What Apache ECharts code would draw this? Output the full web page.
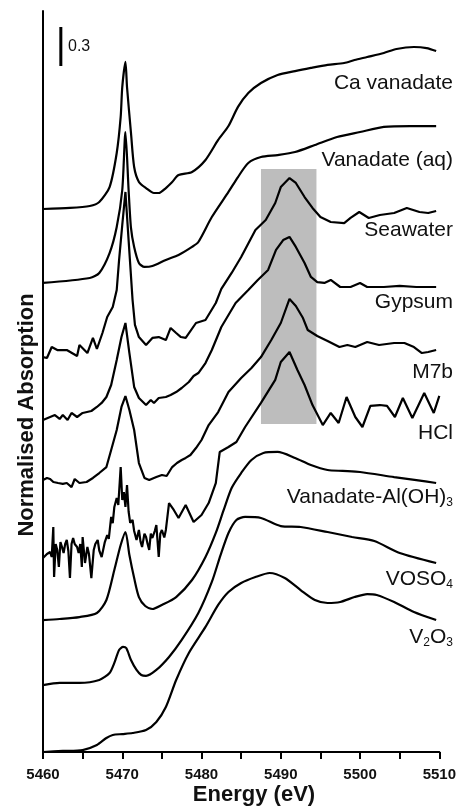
<!DOCTYPE html>
<html>
<head>
<meta charset="utf-8">
<title>V K-edge XANES</title>
<script src="https://cdn.jsdelivr.net/npm/echarts@6/dist/echarts.min.js"></script>
<style>
  html, body { margin: 0; padding: 0; background: #fff; }
  #chart { width: 459px; height: 807px; }
</style>
</head>
<body>
<div id="chart"></div>
<script>
/*** data (energy eV, stacked normalised absorption) ***/
var xLabels = [5460, 5470, 5480, 5490, 5500, 5510];

var caVanadate = [
  [5460.0,4.177],[5463.4,4.185],[5465.9,4.200],[5467.1,4.231],[5468.4,4.346],[5469.3,4.608],
  [5469.8,4.885],[5470.0,5.115],[5470.4,5.308],[5470.6,5.115],[5471.1,4.762],[5471.5,4.500],
  [5472.1,4.385],[5473.0,4.338],[5474.0,4.300],[5474.6,4.300],[5475.5,4.338],[5476.3,4.385],
  [5477.1,4.438],[5478.8,4.462],[5480.5,4.554],[5482.1,4.708],[5483.4,4.815],[5484.6,4.962],
  [5485.9,5.069],[5487.5,5.146],[5489.6,5.208],[5491.8,5.238],[5493.8,5.262],[5495.9,5.285],
  [5498.0,5.300],[5499.3,5.323],[5500.9,5.346],[5503.0,5.377],[5504.6,5.408],[5506.8,5.423],
  [5508.4,5.415],[5509.6,5.392]
];
var vanadateAq = [
  [5460.0,3.608],[5465.9,3.646],[5467.1,3.685],[5468.4,3.838],[5469.3,4.038],[5470.0,4.323],
  [5470.4,4.769],[5470.8,4.323],[5471.1,4.031],[5471.5,3.885],[5472.1,3.762],[5472.8,3.731],
  [5473.8,3.738],[5475.5,3.785],[5477.1,3.823],[5478.8,3.885],[5479.6,3.923],[5481.3,4.115],
  [5483.4,4.308],[5484.6,4.423],[5485.9,4.531],[5487.5,4.577],[5489.6,4.592],[5491.8,4.615],
  [5494.3,4.669],[5497.1,4.731],[5500.0,4.769],[5503.0,4.808],[5506.3,4.815],[5509.6,4.815]
];
var seawater = [
  [5460.0,3.038],[5460.5,3.031],[5461.1,3.115],[5461.8,3.092],[5463.0,3.092],[5464.3,3.046],
  [5464.6,3.131],[5465.6,3.069],[5466.3,3.185],[5466.8,3.100],[5467.5,3.223],[5468.1,3.346],
  [5468.8,3.423],[5469.3,3.554],[5469.6,3.785],[5470.0,4.054],[5470.4,4.308],[5470.8,3.938],
  [5471.3,3.477],[5471.6,3.285],[5472.1,3.192],[5473.0,3.131],[5473.8,3.185],[5474.6,3.192],
  [5475.5,3.169],[5476.1,3.262],[5476.8,3.223],[5477.4,3.192],[5478.0,3.185],[5479.3,3.300],
  [5480.5,3.323],[5481.8,3.454],[5482.5,3.562],[5483.8,3.685],[5485.0,3.808],[5486.8,4.015],
  [5488.1,4.092],[5489.3,4.223],[5490.0,4.346],[5491.1,4.415],[5491.9,4.377],[5493.0,4.269],
  [5494.0,4.185],[5495.0,4.115],[5496.3,4.077],[5498.0,4.069],[5498.8,4.108],[5499.9,4.154],
  [5501.1,4.108],[5502.5,4.131],[5504.3,4.146],[5505.9,4.185],[5507.5,4.154],[5508.6,4.146],
  [5509.6,4.162]
];
var gypsum = [
  [5460.0,2.554],[5460.9,2.577],[5461.5,2.592],[5462.1,2.562],[5462.5,2.592],[5463.1,2.554],
  [5463.6,2.608],[5464.3,2.577],[5465.0,2.608],[5466.1,2.623],[5466.8,2.654],[5467.4,2.685],
  [5468.0,2.731],[5468.6,2.823],[5469.3,3.015],[5469.9,3.192],[5470.4,3.300],[5470.9,3.069],
  [5471.5,2.808],[5472.1,2.723],[5473.0,2.669],[5473.6,2.708],[5474.0,2.685],[5474.6,2.723],
  [5475.5,2.731],[5476.1,2.746],[5476.8,2.769],[5477.5,2.800],[5478.4,2.846],[5479.0,2.892],
  [5479.6,2.915],[5480.5,2.992],[5481.3,3.092],[5482.5,3.269],[5484.3,3.454],[5485.9,3.554],
  [5487.1,3.631],[5488.4,3.708],[5489.4,3.862],[5490.3,3.938],[5491.1,3.962],[5491.9,3.885],
  [5493.0,3.762],[5493.8,3.654],[5494.6,3.615],[5495.5,3.608],[5496.3,3.631],[5497.5,3.577],
  [5498.8,3.577],[5500.0,3.608],[5500.9,3.577],[5503.0,3.577],[5505.0,3.585],[5507.1,3.577],
  [5509.6,3.577]
];
var m7b = [
  [5460.0,2.092],[5460.5,2.108],[5460.9,2.100],[5461.3,2.077],[5461.9,2.069],[5462.5,2.062],
  [5463.0,2.069],[5463.6,2.038],[5464.0,2.100],[5464.6,2.069],[5465.5,2.077],[5466.3,2.108],
  [5467.1,2.146],[5468.0,2.192],[5468.6,2.323],[5469.3,2.477],[5469.9,2.654],[5470.4,2.738],
  [5470.9,2.631],[5471.5,2.477],[5472.1,2.223],[5472.8,2.108],[5473.4,2.092],[5474.3,2.115],
  [5475.0,2.131],[5475.6,2.123],[5476.3,2.192],[5476.9,2.223],[5477.5,2.246],[5478.0,2.262],
  [5478.6,2.285],[5479.3,2.338],[5480.0,2.400],[5480.9,2.515],[5482.1,2.615],[5483.4,2.769],
  [5485.0,2.877],[5486.3,2.954],[5487.5,3.038],[5488.8,3.169],[5490.0,3.300],[5491.1,3.485],
  [5491.9,3.431],[5492.8,3.338],[5493.4,3.246],[5494.6,3.200],[5495.9,3.162],[5497.4,3.115],
  [5498.4,3.131],[5499.4,3.115],[5500.9,3.154],[5502.4,3.131],[5504.3,3.146],[5505.6,3.146],
  [5506.8,3.115],[5507.8,3.069],[5508.6,3.077],[5509.6,3.092]
];
var hcl = [
  [5460.0,1.492],[5460.5,1.523],[5460.9,1.538],[5461.1,1.500],[5461.3,1.731],[5461.4,1.346],
  [5461.6,1.600],[5461.8,1.554],[5462.0,1.423],[5462.2,1.615],[5462.4,1.577],[5462.6,1.531],
  [5462.8,1.600],[5463.0,1.631],[5463.2,1.546],[5463.4,1.338],[5463.6,1.600],[5463.8,1.646],
  [5464.0,1.600],[5464.3,1.577],[5464.5,1.531],[5464.7,1.600],[5464.9,1.423],[5465.0,1.654],
  [5465.3,1.454],[5465.6,1.577],[5465.8,1.523],[5466.1,1.338],[5466.4,1.554],[5466.6,1.600],
  [5466.9,1.631],[5467.1,1.550],[5467.4,1.500],[5467.8,1.615],[5468.1,1.669],[5468.3,1.640],
  [5468.6,1.808],[5468.8,1.760],[5469.0,1.885],[5469.3,1.954],[5469.5,1.900],[5469.8,2.192],
  [5470.0,1.938],[5470.2,2.000],[5470.4,1.885],[5470.6,2.054],[5470.8,1.850],[5471.0,1.762],
  [5471.3,1.785],[5471.5,1.700],[5471.8,1.631],[5472.1,1.708],[5472.3,1.620],[5472.5,1.577],
  [5472.8,1.680],[5473.0,1.654],[5473.2,1.600],[5473.4,1.554],[5473.6,1.680],[5473.8,1.646],
  [5474.1,1.700],[5474.3,1.746],[5474.6,1.500],[5474.8,1.680],[5475.0,1.708],[5475.3,1.650],
  [5475.5,1.708],[5475.9,1.915],[5476.5,1.862],[5477.1,1.800],[5478.0,1.900],[5479.0,1.769],
  [5480.0,1.823],[5480.9,1.915],[5481.8,2.069],[5482.3,2.308],[5483.4,2.346],[5484.4,2.385],
  [5485.5,2.500],[5487.5,2.685],[5489.3,2.862],[5490.0,3.000],[5491.1,3.077],[5492.1,2.938],
  [5493.0,2.823],[5494.0,2.669],[5495.3,2.515],[5496.3,2.608],[5497.3,2.531],[5498.3,2.731],
  [5499.4,2.577],[5500.3,2.500],[5501.3,2.662],[5502.5,2.669],[5503.4,2.662],[5504.4,2.577],
  [5505.4,2.723],[5506.6,2.569],[5508.1,2.762],[5509.3,2.608],[5510.0,2.740]
];
var vanadateAlOH3 = [
  [5460.0,1.015],[5462.1,1.023],[5464.6,1.038],[5466.8,1.069],[5468.0,1.169],[5469.0,1.400],
  [5469.8,1.592],[5470.4,1.692],[5470.9,1.515],[5471.5,1.338],[5472.1,1.192],[5472.9,1.123],
  [5473.8,1.100],[5475.0,1.131],[5476.8,1.192],[5478.8,1.323],[5480.5,1.500],[5481.8,1.685],
  [5482.8,1.862],[5483.8,2.031],[5485.0,2.146],[5486.3,2.246],[5487.8,2.300],[5489.6,2.308],
  [5491.8,2.262],[5493.8,2.208],[5495.9,2.169],[5497.8,2.162],[5500.0,2.154],[5504.3,2.115],
  [5507.1,2.092],[5509.6,2.069]
];
var voso4 = [
  [5460.0,0.515],[5462.1,0.531],[5464.6,0.531],[5467.1,0.554],[5468.4,0.608],[5469.0,0.685],
  [5469.6,0.785],[5470.1,0.808],[5470.5,0.800],[5471.1,0.708],[5471.8,0.631],[5472.4,0.592],
  [5473.0,0.585],[5474.3,0.631],[5475.9,0.731],[5477.5,0.862],[5479.6,1.069],[5481.3,1.308],
  [5482.4,1.515],[5483.4,1.685],[5484.4,1.785],[5485.5,1.808],[5487.5,1.800],[5490.0,1.738],
  [5492.5,1.731],[5495.9,1.692],[5499.0,1.654],[5501.8,1.623],[5505.0,1.531],[5509.6,1.454]
];
var v2o3 = [
  [5460.0,0.000],[5462.5,0.008],[5465.0,0.015],[5466.8,0.054],[5468.0,0.108],[5468.8,0.131],
  [5470.0,0.138],[5471.3,0.146],[5473.0,0.169],[5474.3,0.231],[5475.5,0.346],[5476.8,0.554],
  [5478.4,0.762],[5480.5,0.962],[5482.1,1.131],[5483.4,1.231],[5485.0,1.300],[5486.8,1.346],
  [5488.6,1.377],[5490.5,1.338],[5492.5,1.246],[5494.3,1.169],[5495.9,1.146],[5497.5,1.154],
  [5499.3,1.192],[5500.9,1.215],[5502.1,1.208],[5504.3,1.154],[5506.8,1.077],[5509.6,1.015]
];

// scale bar (0.3 absorption units) and shaded energy window
var scaleBar = [[5462.25, 5.277], [5462.25, 5.577]];
var shadeX = [5487.5, 5494.5];
var shadeY = [2.523, 4.485];

var FONT = 'Liberation Sans, Arial, Helvetica, sans-serif';
var chart = echarts.init(document.getElementById('chart'));

function spectrum(data, smooth) {
  return {
    type: 'line',
    data: data,
    showSymbol: false,
    smooth: smooth ? 0.25 : false,
    z: 3,
    lineStyle: { color: '#000', width: 2.2 },
    silent: true
  };
}

function label(text, y) {
  return {
    type: 'text',
    x: 453,
    y: y,
    z: 10,
    style: {
      text: text,
      textAlign: 'right',
      textVerticalAlign: 'middle',
      fill: '#111',
      font: '21px ' + FONT,
      rich: {
        m: { fontSize: 21, fontFamily: FONT, fill: '#111', lineHeight: 24, verticalAlign: 'middle' },
        s: { fontSize: 12, fontFamily: FONT, fill: '#111', lineHeight: 12, verticalAlign: 'bottom' }
      }
    }
  };
}

var option = {
  animation: false,
  backgroundColor: '#fff',
  grid: { left: 43, right: 16, top: 11, bottom: 55 },
  xAxis: {
    type: 'value',
    min: 5460,
    max: 5510,
    interval: 5,
    axisLine: { lineStyle: { color: '#000', width: 2 } },
    axisTick: { show: true, inside: false, length: 7, lineStyle: { color: '#000', width: 2 } },
    axisLabel: {
      margin: 15,
      fontFamily: FONT,
      fontSize: 15,
      fontWeight: 'bold',
      color: '#111',
      formatter: function (v) { return xLabels.indexOf(v) >= 0 ? String(v) : ''; }
    },
    splitLine: { show: false }
  },
  yAxis: {
    type: 'value',
    min: 0,
    max: 5.7,
    axisLine: { show: true, lineStyle: { color: '#000', width: 2 } },
    axisTick: { show: false },
    axisLabel: { show: false },
    splitLine: { show: false }
  },
  graphic: [
    label('Ca vanadate', 83),
    label('Vanadate (aq)', 160),
    label('Seawater', 230),
    label('Gypsum', 302),
    label('M7b', 372),
    label('HCl', 433),
    label('{m|Vanadate-Al(OH)}{s|3}', 497),
    label('{m|VOSO}{s|4}', 579),
    label('{m|V}{s|2}{m|O}{s|3}', 637),
    {
      type: 'text', x: 68, y: 47, z: 10,
      style: { text: '0.3', fill: '#111', font: '16px ' + FONT, textAlign: 'left', textVerticalAlign: 'middle' }
    },
    {
      type: 'text', x: 254, y: 795, z: 10,
      style: { text: 'Energy (eV)', fill: '#111', font: 'bold 22px ' + FONT, textAlign: 'center', textVerticalAlign: 'middle' }
    },
    {
      type: 'text', x: 27, y: 415, rotation: Math.PI / 2, z: 10,
      style: { text: 'Normalised Absorption', fill: '#111', font: 'bold 22px ' + FONT, textAlign: 'center', textVerticalAlign: 'middle' }
    }
  ],
  series: [
    {
      type: 'line',
      data: scaleBar,
      showSymbol: false,
      z: 3,
      silent: true,
      lineStyle: { color: '#000', width: 3 },
      markArea: {
        silent: true,
        itemStyle: { color: '#bdbdbd' },
        data: [[{ coord: [shadeX[0], shadeY[0]] }, { coord: [shadeX[1], shadeY[1]] }]]
      }
    },
    spectrum(caVanadate, true),
    spectrum(vanadateAq, true),
    spectrum(seawater, false),
    spectrum(gypsum, false),
    spectrum(m7b, false),
    spectrum(hcl, false),
    spectrum(vanadateAlOH3, true),
    spectrum(voso4, true),
    spectrum(v2o3, true)
  ]
};
chart.setOption(option);
</script>
</body>
</html>
